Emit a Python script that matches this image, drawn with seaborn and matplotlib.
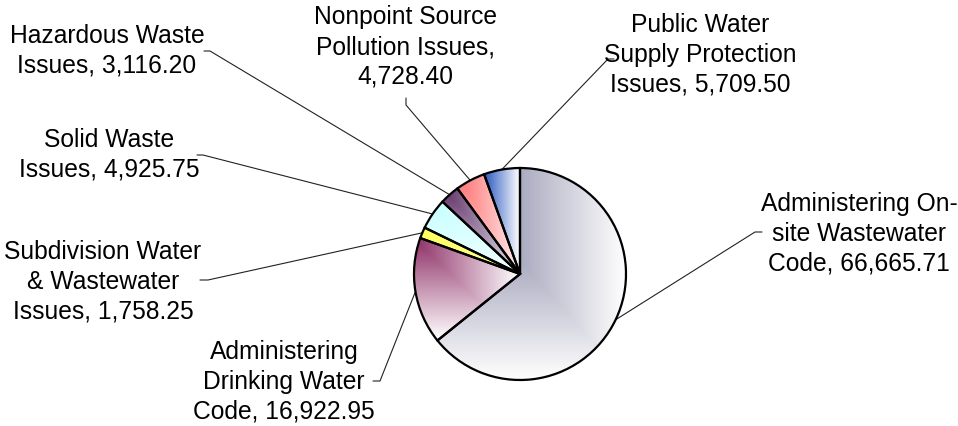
import numpy as np
import matplotlib
matplotlib.use("Agg")
import matplotlib.pyplot as plt
from matplotlib.colors import LinearSegmentedColormap
import seaborn as sns

sns.set_theme(style="white")
plt.rcParams['font.family'] = ['Liberation Sans', 'DejaVu Sans']

# Data
categories = [
    "Administering On-site Wastewater Code",
    "Administering Drinking Water Code",
    "Subdivision Water & Wastewater Issues",
    "Solid Waste Issues",
    "Hazardous Waste Issues",
    "Nonpoint Source Pollution Issues",
    "Public Water Supply Protection Issues",
]
values = [66665.71, 16922.95, 1758.25, 4925.75, 3116.20, 4728.40, 5709.50]
# label text as wrapped in the original chart
label_text = [
    "Administering On-\nsite Wastewater\nCode, {}",
    "Administering\nDrinking Water\nCode, {}",
    "Subdivision Water\n& Wastewater\nIssues, {}",
    "Solid Waste\nIssues, {}",
    "Hazardous Waste\nIssues, {}",
    "Nonpoint Source\nPollution Issues,\n{}",
    "Public Water\nSupply Protection\nIssues, {}",
]

# Styles: gradient start/end colours and direction ("corner" = from top-left corner)
grad_start = ['#6a6a90', '#8c2c64', '#ffff55', '#c4ffff', '#5e2e64', '#ff7070', '#2a58c0']
grad_end = ['#ffffff', '#ffffff', '#ffffa0', '#f4ffff', '#e4e4ee', '#ffeeee', '#ffffff']
grad_dir = ['corner', 'corner', 'corner', 'corner', 'corner', 'corner', 'horiz']

# Layout in pixels (figure 958x427)
W, H = 958, 427
cx, cy, rad = 520, 275, 106
label_pos = [(859, 234), (284, 382), (103, 282), (109, 155), (107, 51), (405, 47), (700, 55)]
# elbow: where the leader meets the short tick, and tick end
elbow = [((755, 233), (762, 233)), ((380, 382), (373, 382)), ((208, 281), (200, 281)),
         ((203, 156), (197, 156)), ((210, 52), (204, 52)), ((406, 106), (406, 99)),
         ((608, 60), (614, 60))]


def px2d(p):
    return ((p[0] - cx) / rad, (cy - p[1]) / rad)


fig = plt.figure(figsize=(W / 100, H / 100), dpi=100)
ax = fig.add_axes([0, 0, 1, 1])

wedges, _ = ax.pie(values, startangle=90, counterclock=False, radius=1,
                   wedgeprops=dict(facecolor='none', edgecolor='black', linewidth=1.6, zorder=3))

for i, w in enumerate(wedges):
    # gradient fill clipped to the wedge
    verts = w.get_path().vertices
    x0, y0 = verts.min(axis=0)
    x1, y1 = verts.max(axis=0)
    n = 240
    gx, gy = np.meshgrid(np.linspace(0, 1, n), np.linspace(0, 1, n))
    if grad_dir[i] == 'horiz':
        t = gx
    else:
        t = np.maximum(gx, gy)
    cmap = LinearSegmentedColormap.from_list('g%d' % i, [grad_start[i], grad_end[i]])
    im = ax.imshow(t, cmap=cmap, extent=(x0, x1, y0, y1), origin='upper',
                   interpolation='bilinear', zorder=1, aspect='auto')
    im.set_clip_path(w)

    # leader line from the middle of the wedge's outer edge
    mid = np.deg2rad((w.theta1 + w.theta2) / 2)
    ex, ey = np.cos(mid), np.sin(mid)
    (a, b) = elbow[i]
    ax_, ay_ = px2d(a)
    bx_, by_ = px2d(b)
    ax.plot([ex, ax_, bx_], [ey, ay_, by_], color='#222222', lw=0.8, zorder=2)

    lx, ly = px2d(label_pos[i])
    ax.text(lx, ly, label_text[i].format(f"{values[i]:,.2f}"), ha='center', va='center',
            multialignment='center', fontsize=17.7, linespacing=1.31, color='black')

ax.set_xlim(-cx / rad, (W - cx) / rad)
ax.set_ylim(-(H - cy) / rad, cy / rad)
ax.set_aspect('equal')
ax.axis('off')

fig.savefig('out.png', dpi=100)
